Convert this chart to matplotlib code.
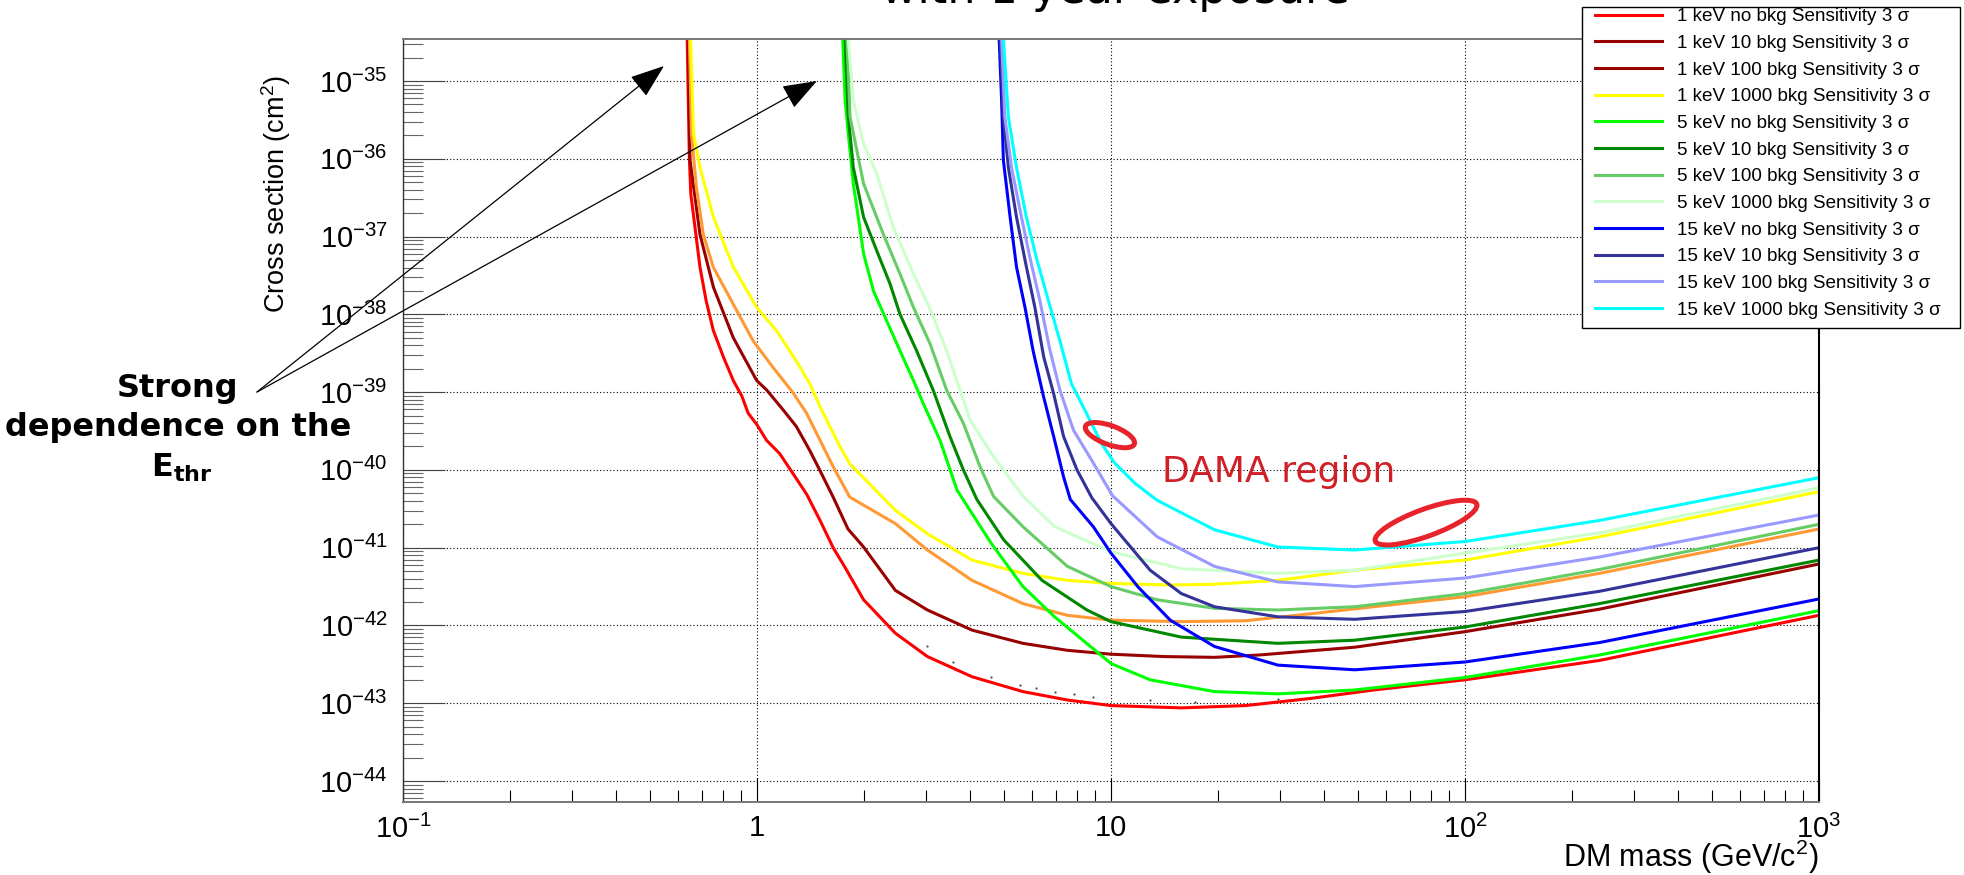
import numpy as np
import matplotlib.pyplot as plt
from matplotlib.patches import Ellipse, Rectangle
from matplotlib.lines import Line2D
from matplotlib.transforms import ScaledTranslation
from matplotlib.ticker import FixedLocator, FixedFormatter, LogLocator, NullFormatter

plt.rcParams['font.family'] = ['Liberation Sans', 'DejaVu Sans']
plt.rcParams['mathtext.default'] = 'regular'

# ---- sensitivity curves: DM mass (GeV/c^2) vs cross section (cm^2) ----
# 1 keV threshold
m_1_0 = [0.635, 0.644, 0.650, 0.668, 0.690, 0.718, 0.753, 0.804, 0.857, 0.906, 0.944, 1.0,
         1.064, 1.159, 1.265, 1.380, 1.507, 1.641, 1.766, 2.0, 2.46, 3.03, 4.05, 5.64, 7.53,
         10, 15.8, 24.0, 36.5, 55.2, 100, 240, 1000]
s_1_0 = [3.5e-35, 1.05e-36, 3.55e-37, 1.32e-37, 4.07e-38, 1.51e-38, 6.17e-39, 2.82e-39,
         1.41e-39, 8.91e-40, 5.37e-40, 3.80e-40, 2.40e-40, 1.62e-40, 8.91e-41, 4.90e-41,
         2.24e-41, 1.00e-41, 5.75e-42, 2.14e-42, 7.94e-43, 3.98e-43, 2.19e-43, 1.41e-43,
         1.10e-43, 9.33e-44, 8.71e-44, 9.33e-44, 1.15e-43, 1.48e-43, 2.00e-43, 3.55e-43, 1.35e-42]

m_1_10 = [0.640, 0.647, 0.690, 0.753, 0.857, 0.998, 1.064, 1.186, 1.291, 1.409, 1.503, 1.641,
          1.807, 2.0, 2.46, 3.03, 4.05, 5.64, 7.53, 10, 14.1, 19.6, 26.2, 48.8, 100, 240, 1000]
s_1_10 = [3.5e-35, 9.55e-37, 1.07e-37, 2.24e-38, 5.01e-39, 1.41e-39, 1.07e-39, 5.89e-40,
          3.63e-40, 1.78e-40, 1.00e-40, 4.47e-41, 1.74e-41, 1.02e-41, 2.82e-42, 1.58e-42,
          8.71e-43, 5.89e-43, 4.79e-43, 4.27e-43, 3.98e-43, 3.89e-43, 4.17e-43, 5.25e-43,
          8.32e-43, 1.62e-42, 6.17e-42]

m_1_100 = [0.644, 0.653, 0.674, 0.705, 0.752, 0.857, 0.975, 1.109, 1.265, 1.380, 1.507, 1.641,
           1.828, 2.46, 3.03, 4.05, 5.64, 7.53, 10, 15.8, 24.0, 36.5, 55.2, 100, 240, 1000]
s_1_100 = [3.5e-35, 2.09e-36, 4.37e-37, 1.07e-37, 4.07e-38, 1.35e-38, 4.57e-39, 2.09e-39,
           9.77e-40, 5.37e-40, 2.40e-40, 1.10e-40, 4.47e-41, 2.04e-41, 9.33e-42, 3.80e-42,
           1.91e-42, 1.35e-42, 1.17e-42, 1.12e-42, 1.15e-42, 1.41e-42, 1.74e-42, 2.34e-42,
           4.68e-42, 1.74e-41]

m_1_1000 = [0.649, 0.662, 0.690, 0.753, 0.857, 0.998, 1.135, 1.291, 1.413, 1.507, 1.714, 1.828,
            2.46, 3.03, 4.05, 5.64, 7.53, 10, 14.7, 19.6, 29.6, 48.8, 100, 240, 1000]
s_1_1000 = [3.5e-35, 2.09e-36, 7.76e-37, 1.78e-37, 4.07e-38, 1.23e-38, 6.17e-39, 2.51e-39,
            1.26e-39, 6.46e-40, 2.00e-40, 1.20e-40, 3.02e-41, 1.51e-41, 6.92e-42, 4.68e-42,
            3.80e-42, 3.47e-42, 3.31e-42, 3.39e-42, 3.80e-42, 5.13e-42, 6.92e-42, 1.38e-41,
            5.25e-41]

# 5 keV threshold
m_5_0 = [1.746, 1.774, 1.811, 1.871, 1.932, 2.0, 2.133, 2.323, 2.535, 2.767, 2.951, 3.289,
         3.673, 4.581, 5.64, 6.93, 10, 12.9, 19.6, 29.6, 48.8, 100, 240, 1000]
s_5_0 = [3.5e-35, 5.62e-36, 2.09e-36, 4.79e-37, 1.78e-37, 6.03e-38, 2.00e-38, 8.32e-39,
         3.39e-39, 1.41e-39, 7.08e-40, 2.40e-40, 5.50e-41, 1.15e-41, 3.16e-42, 1.29e-42,
         3.24e-43, 2.00e-43, 1.41e-43, 1.32e-43, 1.48e-43, 2.14e-43, 4.17e-43, 1.55e-42]

m_5_10 = [1.774, 1.811, 1.871, 2.0, 2.178, 2.377, 2.535, 2.825, 3.148, 3.508, 3.828, 4.178,
          4.977, 6.383, 8.551, 10, 15.8, 29.6, 48.8, 100, 240, 1000]
s_5_10 = [3.5e-35, 3.47e-36, 7.76e-37, 1.78e-37, 6.61e-38, 2.45e-38, 1.00e-38, 3.39e-39,
          1.05e-39, 2.69e-40, 1.00e-40, 4.17e-41, 1.26e-41, 3.80e-42, 1.58e-42, 1.12e-42,
          7.08e-43, 5.89e-43, 6.46e-43, 9.55e-43, 1.91e-42, 6.92e-42]

m_5_100 = [1.795, 1.832, 1.914, 2.0, 2.275, 2.535, 2.767, 3.083, 3.436, 3.828, 4.266, 4.656,
           5.64, 7.53, 10, 13.5, 19.6, 29.6, 48.8, 100, 240, 1000]
s_5_100 = [3.5e-35, 3.47e-36, 1.29e-36, 4.79e-37, 1.07e-37, 3.31e-38, 1.23e-38, 4.17e-39,
           1.05e-39, 3.98e-40, 1.10e-40, 4.57e-41, 1.86e-41, 5.75e-42, 3.16e-42, 2.14e-42,
           1.66e-42, 1.58e-42, 1.74e-42, 2.57e-42, 5.25e-42, 2.00e-41]

m_5_1000 = [1.811, 1.871, 2.0, 2.178, 2.427, 2.767, 3.083, 3.436, 3.750, 4.000, 4.656, 5.649,
            6.934, 10, 15.8, 29.6, 48.8, 100, 240, 1000]
s_5_1000 = [3.5e-35, 5.62e-36, 1.55e-36, 6.46e-37, 1.32e-37, 3.31e-38, 1.17e-38, 3.39e-39,
            1.05e-39, 4.37e-40, 1.48e-40, 4.57e-41, 1.86e-41, 8.91e-42, 5.37e-42, 4.68e-42,
            5.13e-42, 8.51e-42, 1.55e-41, 5.89e-41]

# 15 keV threshold
m_15_0 = [4.831, 4.909, 4.966, 5.188, 5.408, 5.715, 6.026, 6.442, 6.887, 7.345, 7.674, 8.913,
          10, 11.9, 14.7, 19.6, 29.6, 48.8, 100, 240, 1000]
s_15_0 = [3.5e-35, 5.62e-36, 9.55e-37, 1.78e-37, 4.07e-38, 1.23e-38, 3.39e-39, 8.91e-40,
          2.69e-40, 8.13e-41, 4.17e-41, 1.86e-41, 8.51e-42, 3.16e-42, 1.17e-42, 5.37e-43,
          3.09e-43, 2.69e-43, 3.39e-43, 6.03e-43, 2.19e-42]

m_15_10 = [4.864, 4.966, 5.129, 5.408, 5.768, 6.095, 6.457, 6.887, 7.345, 8.017, 8.831, 10,
           12.9, 15.8, 19.6, 29.6, 48.8, 100, 240, 1000]
s_15_10 = [3.5e-35, 3.47e-36, 7.76e-37, 1.78e-37, 4.07e-38, 1.23e-38, 2.82e-39, 9.55e-40,
           2.69e-40, 1.00e-40, 4.37e-41, 2.04e-41, 5.13e-42, 2.57e-42, 1.74e-42, 1.29e-42,
           1.20e-42, 1.51e-42, 2.75e-42, 1.00e-41]

m_15_100 = [4.909, 5.012, 5.236, 5.585, 5.902, 6.295, 6.714, 7.178, 7.834, 8.913, 10.09, 13.5,
            19.6, 29.6, 48.8, 100, 240, 1000]
s_15_100 = [3.5e-35, 3.47e-36, 7.76e-37, 1.78e-37, 5.37e-38, 1.51e-38, 3.55e-39, 1.05e-39,
            3.24e-40, 1.23e-40, 4.68e-41, 1.38e-41, 5.75e-42, 3.63e-42, 3.16e-42, 4.07e-42,
            7.59e-42, 2.63e-41]

m_15_1000 = [4.966, 5.129, 5.408, 5.768, 6.152, 6.577, 7.212, 7.727, 8.433, 9.397, 10.23, 11.67,
             13.5, 19.6, 29.6, 48.8, 100, 240, 1000]
s_15_1000 = [3.5e-35, 3.47e-36, 7.76e-37, 1.78e-37, 5.37e-38, 1.82e-38, 4.17e-39, 1.29e-39,
             5.89e-40, 2.19e-40, 1.23e-40, 6.76e-41, 4.07e-41, 1.70e-41, 1.02e-41, 9.33e-42,
             1.20e-41, 2.24e-41, 7.94e-41]

# faint dotted trace next to the 1 keV curve
dot_m = [3.03, 3.57, 4.58, 5.52, 6.12, 6.93, 7.85, 8.91, 12.9, 17.3, 29.6]
dot_s = [5.37e-43, 3.39e-43, 2.19e-43, 1.70e-43, 1.55e-43, 1.41e-43, 1.32e-43, 1.20e-43,
         1.10e-43, 1.05e-43, 1.15e-43]

masses = [m_1_0, m_1_10, m_1_100, m_1_1000, m_5_0, m_5_10, m_5_100, m_5_1000,
          m_15_0, m_15_10, m_15_100, m_15_1000]
xsecs = [s_1_0, s_1_10, s_1_100, s_1_1000, s_5_0, s_5_10, s_5_100, s_5_1000,
         s_15_0, s_15_10, s_15_100, s_15_1000]
labels = ['1 keV no bkg Sensitivity 3 σ', '1 keV 10 bkg Sensitivity 3 σ',
          '1 keV 100 bkg Sensitivity 3 σ', '1 keV 1000 bkg Sensitivity 3 σ',
          '5 keV no bkg Sensitivity 3 σ', '5 keV 10 bkg Sensitivity 3 σ',
          '5 keV 100 bkg Sensitivity 3 σ', '5 keV 1000 bkg Sensitivity 3 σ',
          '15 keV no bkg Sensitivity 3 σ', '15 keV 10 bkg Sensitivity 3 σ',
          '15 keV 100 bkg Sensitivity 3 σ', '15 keV 1000 bkg Sensitivity 3 σ']
colors = ['#ff0000', '#990000', '#ff9933', '#ffff00',
          '#00ff00', '#008800', '#66cc66', '#ccffcc',
          '#0000ff', '#333399', '#9999ff', '#00ffff']
# the legend marker of the 1 keV / 100 bkg entry is drawn dark red
legend_colors = colors[:2] + ['#990000'] + colors[3:]

x_ticks = [0.1, 1, 10, 100, 1000]
x_ticklabels = [r'$10^{-1}$', '1', '10', r'$10^{2}$', r'$10^{3}$']

# DAMA ellipses: centre (mass, xsec), size in inches, angle
dama = [((9.93, 2.8e-40), 0.52, 0.19, -20), ((77.6, 2.1e-41), 1.08, 0.27, 20)]
# arrow tips for the threshold annotation
arrow_tips = [(0.546, 1.56e-35), (1.476, 1.0e-35)]

W, H = 1964, 875
fig = plt.figure(figsize=(W / 100, H / 100), dpi=100)
ax = fig.add_axes([403 / W, 1 - 802 / H, 1416 / W, 763 / H])

for m, s, c in zip(masses, xsecs, colors):
    ax.plot(m, s, color=c, lw=2.2, solid_joinstyle='round')
ax.plot(dot_m, dot_s, ls='none', marker='o', ms=0.8, color='black', alpha=0.5)

ax.set_xscale('log')
ax.set_yscale('log')
ax.set_xlim(0.1, 1000)
ax.set_ylim(5.37e-45, 3.47e-35)

ax.xaxis.set_major_locator(FixedLocator(x_ticks))
ax.xaxis.set_major_formatter(FixedFormatter(x_ticklabels))
ax.xaxis.set_minor_locator(LogLocator(base=10, subs=np.arange(2, 10), numticks=30))
ax.xaxis.set_minor_formatter(NullFormatter())
ax.yaxis.set_major_locator(LogLocator(base=10, numticks=30))
ax.yaxis.set_minor_locator(LogLocator(base=10, subs=np.arange(2, 10), numticks=30))
ax.yaxis.set_minor_formatter(NullFormatter())

ax.tick_params(axis='x', which='major', direction='in', length=17, width=0.8,
               color='black', labelsize=21, pad=9, top=False)
ax.tick_params(axis='x', which='minor', direction='in', length=8.6, width=0.8,
               color='black', top=False)
ax.tick_params(axis='y', which='major', direction='in', length=30, width=0.8,
               color='#444444', labelsize=21, pad=11, right=False)
ax.tick_params(axis='y', which='minor', direction='in', length=14.4, width=0.8,
               color='#666666', right=False)

ax.grid(True, which='major', ls=(0, (1, 2)), lw=0.8, color='black')
for side in ['top', 'bottom']:
    ax.spines[side].set_color('#777777')
    ax.spines[side].set_linewidth(1.4)
ax.spines['left'].set_color('#333333')
ax.spines['left'].set_linewidth(1.0)
ax.spines['right'].set_color('black')
ax.spines['right'].set_linewidth(1.5)

# axis titles, ROOT style (right/top aligned)
fig.text(1819 / W, 1 - 857 / H, 'DM mass (GeV/c$^{2}$)', ha='right', va='center',
         fontsize=22)
fig.text(276 / W, 1 - 75 / H, 'Cross section (cm$^{2}$)', ha='center', va='top',
         rotation=90, fontsize=19.5)

fig.text(1115 / W, 1 - 3 / H, 'with 1 year exposure', ha='center', va='baseline',
         fontsize=32, family='DejaVu Sans')

# DAMA region
for (xy, w, h, ang) in dama:
    tr = fig.dpi_scale_trans + ScaledTranslation(xy[0], xy[1], ax.transData)
    ax.add_patch(Ellipse((0, 0), w, h, angle=ang, transform=tr, fill=False,
                         edgecolor='#e8232b', lw=3.6, clip_on=False, zorder=6))
fig.text(1162 / W, 1 - 482 / H, 'DAMA region', ha='left', va='baseline',
         fontsize=26, color='#d01f27', family='DejaVu Sans')

# threshold annotation
start = (257 / W, 1 - 392 / H)
for tip in arrow_tips:
    ax.annotate('', xy=tip, xycoords='data', xytext=start, textcoords='figure fraction',
                arrowprops=dict(arrowstyle='-|>,head_length=0.6,head_width=0.22',
                                mutation_scale=36, color='black', lw=0.9,
                                shrinkA=0, shrinkB=0),
                annotation_clip=False)
for txt, yy in [('Strong', 388), ('dependence on the', 428)]:
    fig.text(178 / W, 1 - yy / H, txt, ha='center', va='center', fontsize=23,
             fontweight='bold', family='DejaVu Sans')
fig.text(182 / W, 1 - 468 / H, r'$\mathbf{E}_{\mathbf{thr}}$', ha='center', va='center',
         fontsize=23, family='DejaVu Sans', math_fontfamily='dejavusans')

# legend with a plain rectangular frame
fig.patches.append(Rectangle((1582 / W, 1 - 328 / H), (1960 - 1582) / W, 321 / H,
                             transform=fig.transFigure, facecolor='white',
                             edgecolor='black', lw=1.0, zorder=4))
handles = [Line2D([], [], color=c, lw=2.2) for c in legend_colors]
leg = fig.legend(handles, labels, loc='upper left', bbox_to_anchor=(1595 / W, 1 - 8 / H),
                 frameon=False, fontsize=13.6, borderpad=0, borderaxespad=0,
                 labelspacing=0.5, handlelength=3.55, handletextpad=0.8)
leg.set_zorder(5)

fig.savefig('out.png', dpi=100, facecolor='white')
